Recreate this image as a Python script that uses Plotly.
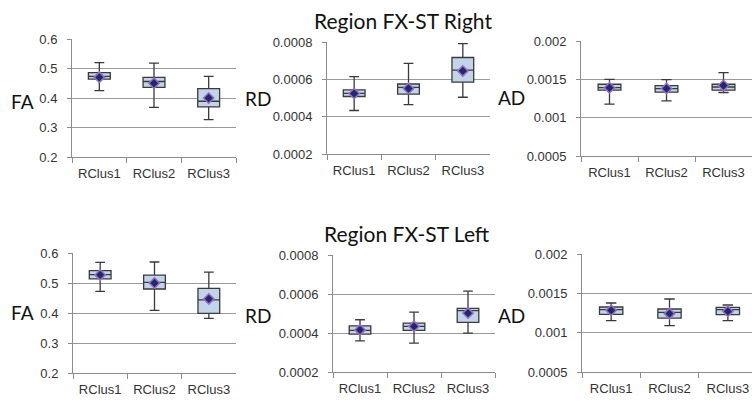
import plotly.graph_objects as go

W, H = 752, 401

categories = ["RClus1", "RClus2", "RClus3"]

# Region FX-ST Right
fa_right = dict(lower=[0.425, 0.368, 0.327], q1=[0.464, 0.436, 0.370], median=[0.473, 0.456, 0.389],
                q3=[0.486, 0.470, 0.432], upper=[0.520, 0.518, 0.473], mean=[0.470, 0.450, 0.400])
rd_right = dict(lower=[0.000433, 0.000465, 0.000504], q1=[0.000508, 0.000521, 0.000585],
                median=[0.000525, 0.000557, 0.000649], q3=[0.000543, 0.000575, 0.000717],
                upper=[0.000614, 0.000685, 0.000791], mean=[0.000524, 0.000551, 0.000645])
ad_right = dict(lower=[0.001176, 0.001220, 0.001328], q1=[0.001358, 0.001332, 0.001358],
                median=[0.001393, 0.001380, 0.001400], q3=[0.001436, 0.001419, 0.001436],
                upper=[0.001500, 0.001497, 0.001588], mean=[0.001390, 0.001380, 0.001420])
# Region FX-ST Left
fa_left = dict(lower=[0.472, 0.409, 0.382], q1=[0.514, 0.480, 0.399], median=[0.528, 0.502, 0.444],
               q3=[0.541, 0.526, 0.482], upper=[0.569, 0.570, 0.536], mean=[0.527, 0.500, 0.447])
rd_left = dict(lower=[0.000360, 0.000348, 0.000399], q1=[0.000394, 0.000413, 0.000454],
               median=[0.000413, 0.000434, 0.000515], q3=[0.000437, 0.000451, 0.000526],
               upper=[0.000468, 0.000507, 0.000615], mean=[0.000416, 0.000434, 0.000502])
ad_left = dict(lower=[0.001153, 0.001089, 0.001153], q1=[0.001233, 0.001186, 0.001229],
               median=[0.001292, 0.001258, 0.001292], q3=[0.001326, 0.001301, 0.001322],
               upper=[0.001377, 0.001428, 0.001352], mean=[0.001284, 0.001242, 0.001271])

fa_ticks = [0.2, 0.3, 0.4, 0.5, 0.6]
fa_ticklabels = ["0.2", "0.3", "0.4", "0.5", "0.6"]
rd_ticks = [0.0002, 0.0004, 0.0006, 0.0008]
rd_ticklabels = ["0.0002", "0.0004", "0.0006", "0.0008"]
ad_ticks = [0.0005, 0.001, 0.0015, 0.002]
ad_ticklabels = ["0.0005", "0.001", "0.0015", "0.002"]

titles = ["Region FX-ST Right", "Region FX-ST Left"]

# panel layout in pixels: (x0, x1, ytop, ybottom, xrange_end, label_right_x, label_center_y)
panels = [
    (fa_right, fa_ticks, fa_ticklabels, "FA", (72, 236, 39, 157, 2.5, 36, 102)),
    (rd_right, rd_ticks, rd_ticklabels, "RD", (327, 490, 42, 154, 2.5, 273, 98)),
    (ad_right, ad_ticks, ad_ticklabels, "AD", (581, 752, 41, 156, 2.5, 527, 97)),
    (fa_left, fa_ticks, fa_ticklabels, "FA", (73, 236, 253, 373, 2.5, 36, 312)),
    (rd_left, rd_ticks, rd_ticklabels, "RD", (333, 495, 255, 372, 2.5, 273, 315)),
    (ad_left, ad_ticks, ad_ticklabels, "AD", (582, 752, 254, 372, 2.414, 527, 315)),
]

fig = go.Figure()
layout = {}
TICK_FONT = dict(family="Liberation Sans, Arial", size=13, color="#333333")
annotations = []

for i, (d, ticks, tlabels, name, (x0, x1, yt, yb, xend, lx, ly)) in enumerate(panels):
    n = "" if i == 0 else str(i + 1)
    xa, ya = "x" + n, "y" + n
    fig.add_trace(go.Box(
        x=categories, q1=d["q1"], median=d["median"], q3=d["q3"],
        lowerfence=d["lower"], upperfence=d["upper"],
        xaxis=xa, yaxis=ya, boxpoints=False, width=0.4, whiskerwidth=0.45,
        fillcolor="#c3d4ea", line=dict(color="#3a3a3a", width=1.3),
        showlegend=False, hoverinfo="skip"))
    fig.add_trace(go.Scatter(
        x=categories, y=d["mean"], mode="markers", xaxis=xa, yaxis=ya,
        marker=dict(symbol="diamond", size=8, color="#1f2a6e",
                    line=dict(color="#9a6fc0", width=1.5)),
        showlegend=False, hoverinfo="skip"))
    layout["xaxis" + n] = dict(
        domain=[x0 / W, x1 / W], anchor=ya, range=[-0.5, xend], type="category",
        showline=True, linecolor="#8c8c8c", linewidth=1, ticks="outside", tickson="boundaries",
        ticklen=5, tickcolor="#8c8c8c", showgrid=False, tickfont=TICK_FONT, fixedrange=True,
        automargin=False, ticklabelstandoff=4)
    layout["yaxis" + n] = dict(
        domain=[1 - yb / H, 1 - yt / H], anchor=xa, range=[ticks[0], ticks[-1]],
        tickvals=ticks, ticktext=tlabels, showline=True, linecolor="#8c8c8c", linewidth=1,
        ticks="outside", ticklen=4, tickcolor="#8c8c8c", showgrid=True, gridcolor="#9a9a9a",
        gridwidth=1, zeroline=False, tickfont=TICK_FONT, fixedrange=True, automargin=False,
        ticklabelstandoff=7)
    annotations.append(dict(
        text=name, xref="paper", yref="paper", x=lx / W, y=1 - ly / H,
        xanchor="right", yanchor="middle", showarrow=False,
        font=dict(family="Lato, Open Sans", size=19, color="#111111")))

annotations.append(dict(text=titles[0], xref="paper", yref="paper", x=403 / W, y=1 - 20 / H,
                        xanchor="center", yanchor="middle", showarrow=False,
                        font=dict(family="Lato, Open Sans", size=21, color="#111111")))
annotations.append(dict(text=titles[1], xref="paper", yref="paper", x=407 / W, y=1 - 233 / H,
                        xanchor="center", yanchor="middle", showarrow=False,
                        font=dict(family="Lato, Open Sans", size=21, color="#111111")))

fig.update_layout(
    width=W, height=H, margin=dict(l=0, r=0, t=0, b=0, autoexpand=False),
    paper_bgcolor="white", plot_bgcolor="white", annotations=annotations, **layout)

fig.write_html("out.html", config={"displayModeBar": False},
               post_script="document.body.style.margin='0';document.body.style.padding='0';")
